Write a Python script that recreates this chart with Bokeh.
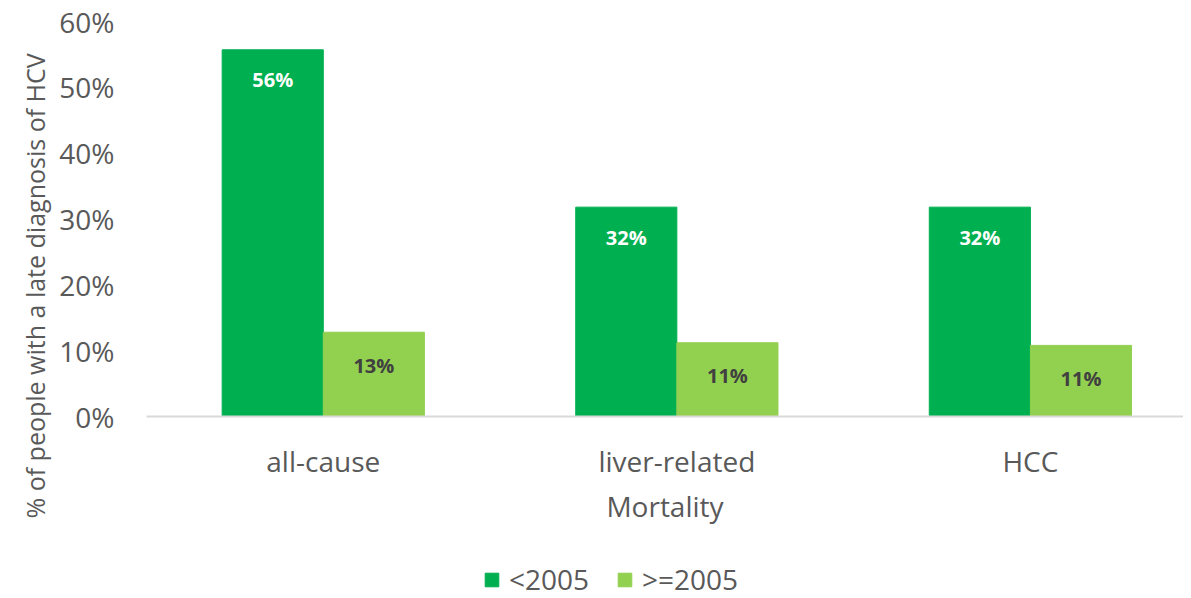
from bokeh.plotting import figure
from bokeh.layouts import column
from bokeh.core.properties import value
from bokeh.models import (ColumnDataSource, Range1d, FixedTicker, NumeralTickFormatter,
                          LinearAxis, Legend, LegendItem, LabelSet, Title)
from bokeh.embed import file_html
from bokeh.resources import INLINE

categories = ["all-cause", "liver-related", "HCC"]
series_names = ["<2005", ">=2005"]
before_2005 = [0.557, 0.318, 0.318]
after_2005 = [0.128, 0.112, 0.108]
y_ticks = [0.0, 0.1, 0.2, 0.3, 0.4, 0.5, 0.6]
y_title = "% of people with a late diagnosis of HCV"
x_title = "Mortality"

DARK = "#00B050"
LIGHT = "#92D050"
TEXT = "#595959"
FONT = "Open Sans"
FS = "28px"


def bare(fig):
    fig.outline_line_color = None
    fig.xgrid.visible = False
    fig.ygrid.visible = False
    fig.min_border_left = 0
    fig.min_border_right = 0
    fig.min_border_top = 0
    fig.min_border_bottom = 0


bw = 0.286
idx = list(range(len(categories)))

src_a = ColumnDataSource(dict(x=[i - bw / 2 for i in idx], top=before_2005,
                              lab=[f"{round(v * 100):.0f}%" for v in before_2005]))
src_b = ColumnDataSource(dict(x=[i + bw / 2 for i in idx], top=after_2005,
                              lab=[f"{round(v * 100):.0f}%" for v in after_2005]))

p = figure(width=1183, height=530, output_backend="svg", toolbar_location=None,
           x_range=Range1d(-0.5, 2.433), y_range=Range1d(0, 0.6),
           x_axis_location=None, y_axis_location=None)
bare(p)
p.min_border_left = 146
p.min_border_top = 21
p.min_border_bottom = 114

p.vbar(x="x", top="top", width=bw, source=src_a, fill_color=DARK, line_color=DARK)
p.vbar(x="x", top="top", width=bw, source=src_b, fill_color=LIGHT, line_color=LIGHT)

yax = LinearAxis(ticker=FixedTicker(ticks=y_ticks), formatter=NumeralTickFormatter(format="0%"))
yax.axis_line_color = None
yax.major_tick_line_color = None
yax.minor_tick_line_color = None
yax.major_label_text_font = FONT
yax.major_label_text_font_size = FS
yax.major_label_text_color = TEXT
yax.major_label_standoff = 26
p.add_layout(yax, "left")

ytitle = Title(text=y_title, align="left", offset=-102,
               text_font=FONT, text_font_size="25px", text_font_style="normal",
               text_color=TEXT)
p.add_layout(ytitle, "left")

xax = LinearAxis(ticker=FixedTicker(ticks=idx),
                 major_label_overrides={i: c for i, c in zip(idx, categories)})
xax.axis_line_color = "#D9D9D9"
xax.axis_line_width = 2
xax.major_tick_line_color = None
xax.minor_tick_line_color = None
xax.major_label_text_font = FONT
xax.major_label_text_font_size = FS
xax.major_label_text_color = TEXT
xax.major_label_standoff = 19
xax.axis_label = x_title
xax.axis_label_text_font = FONT
xax.axis_label_text_font_size = FS
xax.axis_label_text_font_style = "normal"
xax.axis_label_text_color = TEXT
xax.axis_label_standoff = 4
p.add_layout(xax, "below")

la = LabelSet(x="x", y="top", text="lab", source=src_a, y_offset=-30,
              text_align="center", text_baseline="middle", text_color="white",
              text_font=value(FONT), text_font_size="20px", text_font_style="bold")
lb = LabelSet(x="x", y="top", text="lab", source=src_b, y_offset=-33,
              text_align="center", text_baseline="middle", text_color="#404040",
              text_font=value(FONT), text_font_size="20px", text_font_style="bold")
p.add_layout(la)
p.add_layout(lb)

# legend strip
pl = figure(width=1183, height=68, output_backend="svg", toolbar_location=None,
            x_range=Range1d(0, 1), y_range=Range1d(0, 1),
            x_axis_location=None, y_axis_location=None)
bare(pl)
ga = pl.vbar(x=[-1], top=[0], width=0.1, fill_color=DARK, line_color=DARK)
gb = pl.vbar(x=[-1], top=[0], width=0.1, fill_color=LIGHT, line_color=LIGHT)
legend = Legend(items=[LegendItem(label=series_names[0], renderers=[ga]),
                       LegendItem(label=series_names[1], renderers=[gb])],
                orientation="horizontal", location=(337, 0))
legend.label_text_font = FONT
legend.label_text_font_size = FS
legend.label_text_color = TEXT
legend.glyph_width = 17
legend.glyph_height = 17
legend.spacing = 27
legend.label_standoff = 9
legend.border_line_color = None
legend.background_fill_alpha = 0
legend.padding = 0
legend.margin = 0
pl.add_layout(legend, "center")

open("out.html", "w").write(file_html(column(p, pl), INLINE))
